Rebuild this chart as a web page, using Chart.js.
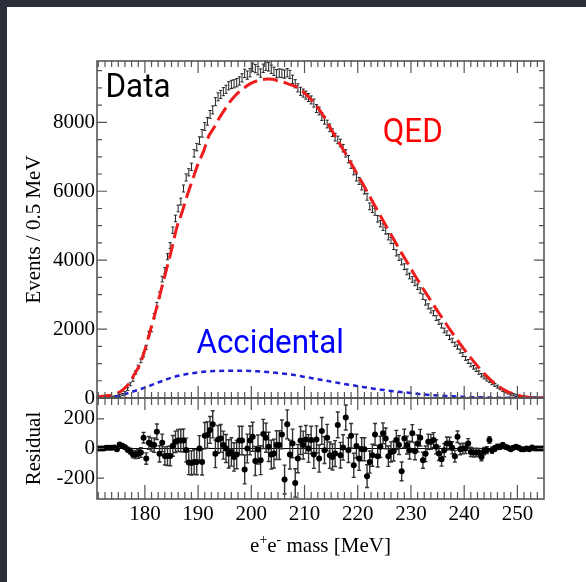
<!DOCTYPE html>
<html>
<head>
<meta charset="utf-8">
<script src="https://cdn.jsdelivr.net/npm/chart.js@4.4.0/dist/chart.umd.min.js"></script>
<style>
  body { margin: 0; background: #2b2f3a; width: 586px; height: 582px; overflow: hidden; }
  #sheet { position: absolute; left: 7px; top: 7px; width: 579px; height: 575px; background: #fff; }
  canvas { position: absolute; left: 0; top: 0; }
</style>
</head>
<body>
<div id="sheet"></div>
<canvas id="mainChart" width="586" height="582"></canvas>
<canvas id="residChart" width="586" height="582"></canvas>
<script>
// bins: 0.5 MeV wide, first bin centred at 171.25 MeV
const binStart = 171.25;
const binWidth = 0.5;

// events per bin
const dataEvents = [
  0, 0, 2, 5, 10, 18, 30, 45, 70, 100,
  150, 260, 400, 530, 740, 900, 1080, 1250, 1470, 1870,
  1990, 2380, 2700, 3000, 3450, 3700, 4100, 4420, 4870, 5210,
  5500, 5700, 6080, 6400, 6550, 6710, 7100, 7280, 7470, 7680,
  7880, 8030, 8230, 8360, 8600, 8740, 8810, 8890, 8960, 9060,
  9100, 9120, 9150, 9200, 9290, 9420, 9370, 9440, 9600, 9560,
  9500, 9430, 9570, 9630, 9610, 9540, 9480, 9410, 9430, 9420,
  9400, 9440, 9390, 9250, 9120, 9000, 8900, 8850, 8790, 8720,
  8650, 8560, 8400, 8330, 8170, 8060, 7950, 7840, 7700, 7570,
  7490, 7400, 7250, 7100, 6930, 6770, 6580, 6400, 6300, 6140,
  6020, 5840, 5560, 5480, 5400, 5200, 5060, 4960, 4850, 4680,
  4570, 4400, 4210, 4080, 3950, 3810, 3660, 3540, 3440, 3340,
  3230, 3120, 2940, 2770, 2660, 2540, 2460, 2320, 2210, 2100,
  1960, 1880, 1760, 1670, 1560, 1480, 1360, 1260, 1150, 1060,
  960, 890, 820, 740, 660, 600, 540, 500, 430, 380,
  330, 280, 230, 185, 150, 120, 95, 75, 55, 40,
  28, 20, 14, 9, 6, 4, 2, 1
];

// residual per bin (lower panel)
const residuals = [
  0, 0, 0, 5, 5, 5, 7, -5, 27, 18,
  9, -7, -18, -40, -40, -36, -27, 72, -68, 38,
  27, 23, 113, -36, 38, -50, -50, -50, 18, 45,
  54, 54, 54, -10, -95, -97, -91, -91, 0, -91,
  86, 91, 125, 163, -36, 61, 68, 23, 0, -36,
  -23, -57, -41, 54, 54, -141, 0, 54, 79, -84,
  -7, -79, 98, 73, 11, -41, -34, 23, 23, 95,
  -209, 163, -41, 34, -232, -68, 54, 23, 61, 0,
  57, -41, 61, -68, 118, -11, 73, -45, -57, -34,
  159, -45, 7, 209, -11, 86, -113, 16, -68, -5,
  -5, -186, -91, -45, 95, -52, 11, 102, 68, -52,
  -23, -18, 57, 23, -154, 68, 23, -11, 102, -18,
  34, 73, -79, -36, 45, 45, 57, 11, -34, -73,
  -11, 34, 34, 5, -52, 79, -5, 0, 0, 34,
  -23, -27, -27, -27, -57, -18, -11, 57, -11, 0,
  11, 11, 23, 11, 5, -5, 5, 11, 5, -5,
  -5, 0, -5, 7, 0, 0, 0, 0
];

// QED expectation (red dashed)
const qedMass = [
  171, 172, 173, 174, 175, 176, 177, 178, 179, 180,
  181, 182, 183, 184, 185, 186, 187, 188, 189, 190,
  191, 192, 193, 194, 195, 196, 197, 198, 199, 200,
  201, 202, 203, 204, 205, 206, 207, 208, 209, 210,
  211, 212, 213, 214, 215, 216, 217, 218, 219, 220,
  221, 222, 223, 224, 225, 226, 227, 228, 229, 230,
  231, 232, 233, 234, 235, 236, 237, 238, 239, 240,
  241, 242, 243, 244, 245, 246, 247, 248, 249, 250,
  251, 252, 253, 254, 255
];
const qedEvents = [
  30, 50, 70, 90, 150, 260, 420, 680, 960, 1400,
  1950, 2500, 3100, 3700, 4300, 4950, 5400, 5900, 6350, 6800,
  7150, 7600, 7850, 8130, 8370, 8600, 8780, 8920, 9040, 9140,
  9200, 9240, 9255, 9250, 9200, 9170, 9110, 9060, 8990, 8850,
  8700, 8520, 8320, 8070, 7800, 7540, 7280, 7010, 6740, 6470,
  6200, 5920, 5640, 5360, 5080, 4810, 4540, 4270, 4010, 3750,
  3490, 3240, 3000, 2760, 2520, 2290, 2060, 1840, 1620, 1410,
  1210, 1020, 840, 670, 520, 390, 280, 195, 130, 80,
  45, 22, 10, 4, 2
];

// accidental background (blue dotted)
const accMass = [
  171, 173, 175, 177, 179, 181, 183, 185, 187, 189,
  191, 193, 195, 197, 199, 201, 203, 205, 207, 209,
  211, 213, 215, 217, 219, 221, 223, 225, 227, 229,
  231, 233, 235, 237, 239, 241, 243, 245, 247, 249,
  251, 253, 255
];
const accEvents = [
  0, 10, 60, 150, 250, 360, 480, 590, 670, 720,
  760, 780, 790, 792, 790, 775, 755, 725, 690, 640,
  585, 530, 475, 420, 370, 320, 270, 230, 190, 160,
  125, 95, 72, 55, 40, 28, 20, 12, 8, 5,
  3, 2, 1
];

const massTicks = [180, 190, 200, 210, 220, 230, 240, 250];
const eventTicks = [0, 2000, 4000, 6000, 8000];
const residTicks = [-200, 0, 200];

const SERIF = "'Liberation Serif', 'Times New Roman', serif";
const SANS = "Roboto, 'Noto Sans', sans-serif";

const binCenters = dataEvents.map((_, i) => binStart + i * binWidth);

// minor tick grids (ROOT style: 8 per 10 MeV, 4 per 2000 events)
const massMinor = [];
for (let v = 171.25; v < 255; v += 1.25) massMinor.push(v);
const eventMinor = [];
for (let v = 500; v < 9780; v += 500) eventMinor.push(v);

function line(ctx, x1, y1, x2, y2) {
  ctx.moveTo(x1, y1); ctx.lineTo(x2, y2);
}

// frame plus inward ticks on all four sides
const frameTicks = {
  id: 'frameTicks',
  afterDraw(chart, args, o) {
    const {ctx, chartArea: a, scales: {x, y}} = chart;
    ctx.save();
    ctx.strokeStyle = '#555';
    ctx.lineWidth = 1.2;
    ctx.beginPath();
    o.xMajor.forEach(v => {
      const p = x.getPixelForValue(v);
      line(ctx, p, a.bottom, p, a.bottom - o.xLen[1]);
      line(ctx, p, a.top, p, a.top + o.xLen[0]);
    });
    o.xMinor.forEach(v => {
      const p = x.getPixelForValue(v);
      line(ctx, p, a.bottom, p, a.bottom - o.xLen[3]);
      line(ctx, p, a.top, p, a.top + o.xLen[2]);
    });
    o.yMajor.forEach(v => {
      const p = y.getPixelForValue(v);
      line(ctx, a.left, p, a.left + o.yLen[0], p);
      line(ctx, a.right, p, a.right - o.yLen[0], p);
    });
    o.yMinor.forEach(v => {
      const p = y.getPixelForValue(v);
      line(ctx, a.left, p, a.left + o.yLen[1], p);
      line(ctx, a.right, p, a.right - o.yLen[1], p);
    });
    ctx.stroke();
    ctx.lineWidth = 1.6;
    ctx.strokeRect(a.left, a.top, a.right - a.left, a.bottom - a.top);
    ctx.restore();
  }
};

// "I" shaped error bars for the data (sqrt N)
const dataBars = {
  id: 'dataBars',
  beforeDatasetsDraw(chart) {
    const {ctx, chartArea: a, scales: {x, y}} = chart;
    const ds = chart.data.datasets.find(d => d.label === 'Data');
    ctx.save();
    ctx.beginPath();
    ctx.rect(a.left, a.top, a.right - a.left, a.bottom - a.top);
    ctx.clip();
    ctx.strokeStyle = '#222';
    ctx.lineWidth = 1;
    ctx.beginPath();
    ds.data.forEach(pt => {
      const px = x.getPixelForValue(pt.x);
      const e = Math.sqrt(pt.y);
      const y1 = y.getPixelForValue(pt.y + e) - 0.8;
      const y2 = y.getPixelForValue(pt.y - e) + 0.8;
      line(ctx, px, y1, px, y2);
      line(ctx, px - 1.6, y1, px + 1.6, y1);
      line(ctx, px - 1.6, y2, px + 1.6, y2);
    });
    ctx.stroke();
    ctx.restore();
  }
};

// labels inside the upper panel
const notes = [
  {text: 'Data', mass: 172.6, events: 8730, color: '#000'},
  {text: 'QED', mass: 224.7, events: 7420, color: '#ff0000'},
  {text: 'Accidental', mass: 189.7, events: 1300, color: '#0000ff'}
];
const textNotes = {
  id: 'textNotes',
  afterDraw(chart) {
    const {ctx, scales: {x, y}} = chart;
    ctx.save();
    ctx.font = '33px ' + SANS;
    ctx.textBaseline = 'alphabetic';
    notes.forEach(n => {
      ctx.save();
      ctx.translate(x.getPixelForValue(n.mass), y.getPixelForValue(n.events));
      ctx.scale(0.95, 1);
      ctx.fillStyle = n.color;
      ctx.fillText(n.text, 0, 0);
      ctx.restore();
    });
    ctx.restore();
  }
};

// residual error bars + zero line
const residBars = {
  id: 'residBars',
  beforeDatasetsDraw(chart) {
    const {ctx, chartArea: a, scales: {x, y}} = chart;
    ctx.save();
    ctx.strokeStyle = '#000';
    ctx.lineWidth = 1;
    ctx.beginPath();
    line(ctx, a.left, y.getPixelForValue(0), a.right, y.getPixelForValue(0));
    ctx.stroke();
    ctx.strokeStyle = '#333';
    ctx.lineWidth = 1.4;
    ctx.beginPath();
    residuals.forEach((r, i) => {
      const px = x.getPixelForValue(binCenters[i]);
      const e = Math.sqrt(dataEvents[i]);
      const y1 = Math.max(a.top, y.getPixelForValue(r + e));
      const y2 = Math.min(a.bottom, y.getPixelForValue(r - e));
      line(ctx, px, y1, px, y2);
      if (e > 8) {
        line(ctx, px - 2, y1, px + 2, y1);
        line(ctx, px - 2, y2, px + 2, y2);
      }
    });
    ctx.stroke();
    ctx.restore();
  }
};

// x title with superscripts, ROOT latex style
const xTitle = {
  id: 'xTitle',
  afterDraw(chart) {
    const {ctx, chartArea: a} = chart;
    const big = '21px ' + SERIF, small = '14px ' + SERIF;
    const parts = [['e', big, 0], ['+', small, -8], ['e', big, 0], ['-', small, -8], [' mass [MeV]', big, 0]];
    ctx.save();
    ctx.fillStyle = '#000';
    ctx.textBaseline = 'alphabetic';
    let w = 0;
    parts.forEach(p => { ctx.font = p[1]; w += ctx.measureText(p[0]).width; });
    let cx = (a.left + a.right) / 2 - w / 2;
    const base = a.bottom + 53;
    parts.forEach(p => {
      ctx.font = p[1];
      ctx.fillText(p[0], cx, base + p[2]);
      cx += ctx.measureText(p[0]).width;
    });
    ctx.restore();
  }
};

const tickFont = {family: SERIF, size: 21};
const plainLabel = v => String(v);

new Chart(document.getElementById('mainChart'), {
  type: 'scatter',
  data: {
    datasets: [
      {
        label: 'Data',
        data: dataEvents.map((n, i) => ({x: binCenters[i], y: n})),
        pointRadius: 0,
        showLine: false
      },
      {
        label: 'QED',
        type: 'line',
        data: qedMass.map((m, i) => ({x: m, y: qedEvents[i]})),
        borderColor: '#ee1c1c',
        borderWidth: 3,
        borderDash: [15, 6],
        pointRadius: 0,
        cubicInterpolationMode: 'monotone',
        fill: false
      },
      {
        label: 'Accidental',
        type: 'line',
        data: accMass.map((m, i) => ({x: m, y: accEvents[i]})),
        borderColor: '#1f1fd6',
        borderWidth: 2.5,
        borderDash: [5, 4],
        pointRadius: 0,
        cubicInterpolationMode: 'monotone',
        fill: false
      }
    ]
  },
  options: {
    responsive: false,
    animation: false,
    layout: {padding: {left: 0, top: 61, right: 42, bottom: 184}},
    plugins: {
      legend: {display: false},
      tooltip: {enabled: false},
      frameTicks: {
        xMajor: massTicks, xMinor: massMinor, xLen: [12, 12, 6, 6],
        yMajor: eventTicks, yMinor: eventMinor, yLen: [10, 5]
      }
    },
    scales: {
      x: {type: 'linear', min: 171, max: 255, display: false},
      y: {
        min: 0, max: 9780,
        afterBuildTicks: s => { s.ticks = eventTicks.map(v => ({value: v})); },
        afterFit: s => { s.width = 97; },
        grid: {display: false, drawTicks: false},
        border: {display: false},
        ticks: {font: tickFont, color: '#000', padding: 2, callback: plainLabel},
        title: {display: true, text: 'Events / 0.5 MeV', font: tickFont, color: '#000', padding: {top: 22, bottom: 0}}
      }
    }
  },
  plugins: [dataBars, frameTicks, textNotes]
});

new Chart(document.getElementById('residChart'), {
  type: 'scatter',
  data: {
    datasets: [{
      label: 'Residual',
      data: residuals.map((r, i) => ({x: binCenters[i], y: r})),
      pointRadius: 3,
      pointBackgroundColor: '#000',
      pointBorderColor: '#000',
      pointBorderWidth: 0
    }]
  },
  options: {
    responsive: false,
    animation: false,
    layout: {padding: {left: 0, top: 398, right: 42, bottom: 0}},
    plugins: {
      legend: {display: false},
      tooltip: {enabled: false},
      frameTicks: {
        xMajor: massTicks, xMinor: massMinor, xLen: [12, 14, 7, 7],
        yMajor: residTicks, yMinor: [], yLen: [7, 4]
      }
    },
    scales: {
      x: {
        type: 'linear', min: 171, max: 255,
        afterBuildTicks: s => { s.ticks = massTicks.map(v => ({value: v})); },
        afterFit: s => { s.height = 83; },
        grid: {display: false, drawTicks: false},
        border: {display: false},
        ticks: {font: tickFont, color: '#000', padding: 3, maxRotation: 0, callback: plainLabel}
      },
      y: {
        min: -340, max: 340,
        afterBuildTicks: s => { s.ticks = residTicks.map(v => ({value: v})); },
        afterFit: s => { s.width = 97; },
        grid: {display: false, drawTicks: false},
        border: {display: false},
        ticks: {font: tickFont, color: '#000', padding: 2, callback: plainLabel},
        title: {display: true, text: 'Residual', font: tickFont, color: '#000', padding: {top: 22, bottom: 0}}
      }
    }
  },
  plugins: [residBars, frameTicks, xTitle]
});
</script>
</body>
</html>
